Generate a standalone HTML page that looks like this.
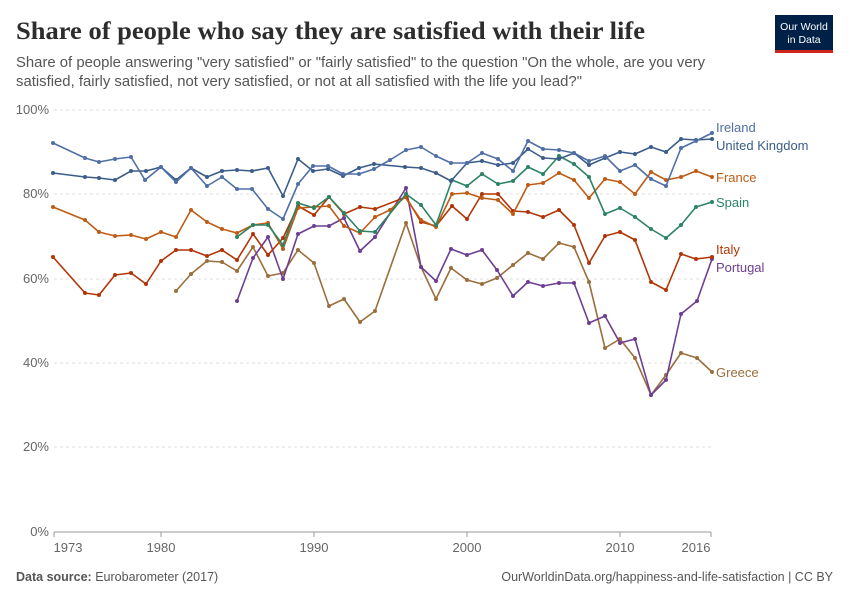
<!DOCTYPE html>
<html><head><meta charset="utf-8"><style>
html,body{margin:0;padding:0;background:#fff;}
svg{display:block;font-family:"Liberation Sans",sans-serif;}
</style></head><body>
<svg width="850" height="600" viewBox="0 0 850 600" xmlns="http://www.w3.org/2000/svg">
<defs>
<marker id="mg" markerWidth="5" markerHeight="5" refX="2.5" refY="2.5" markerUnits="userSpaceOnUse"><circle cx="2.5" cy="2.5" r="2" fill="#9a6f3c"/></marker>
<marker id="mp" markerWidth="5" markerHeight="5" refX="2.5" refY="2.5" markerUnits="userSpaceOnUse"><circle cx="2.5" cy="2.5" r="2" fill="#6d3e91"/></marker>
<marker id="mi" markerWidth="5" markerHeight="5" refX="2.5" refY="2.5" markerUnits="userSpaceOnUse"><circle cx="2.5" cy="2.5" r="2" fill="#b13507"/></marker>
<marker id="mf" markerWidth="5" markerHeight="5" refX="2.5" refY="2.5" markerUnits="userSpaceOnUse"><circle cx="2.5" cy="2.5" r="2" fill="#be5c16"/></marker>
<marker id="ms" markerWidth="5" markerHeight="5" refX="2.5" refY="2.5" markerUnits="userSpaceOnUse"><circle cx="2.5" cy="2.5" r="2" fill="#2c8465"/></marker>
<marker id="mu" markerWidth="5" markerHeight="5" refX="2.5" refY="2.5" markerUnits="userSpaceOnUse"><circle cx="2.5" cy="2.5" r="2" fill="#3b5d8a"/></marker>
<marker id="mr" markerWidth="5" markerHeight="5" refX="2.5" refY="2.5" markerUnits="userSpaceOnUse"><circle cx="2.5" cy="2.5" r="2" fill="#4f6fa6"/></marker>
</defs>
<text x="16" y="39" font-family="Liberation Serif,serif" font-weight="bold" font-size="25" fill="#2d2d2d" textLength="629" lengthAdjust="spacingAndGlyphs">Share of people who say they are satisfied with their life</text>
<text x="16" y="67" font-size="14.5" fill="#555" textLength="689" lengthAdjust="spacingAndGlyphs">Share of people answering "very satisfied" or "fairly satisfied" to the question "On the whole, are you very</text>
<text x="16" y="86" font-size="14.5" fill="#555" textLength="566" lengthAdjust="spacingAndGlyphs">satisfied, fairly satisfied, not very satisfied, or not at all satisfied with the life you lead?"</text>
<rect x="775" y="15" width="58" height="36" fill="#002147"/>
<rect x="775" y="50" width="58" height="3" fill="#ce261e"/>
<text x="804" y="30" font-size="10.5" fill="#fff" text-anchor="middle">Our World</text>
<text x="804" y="43" font-size="10.5" fill="#fff" text-anchor="middle">in Data</text>
<g stroke="#ddd" stroke-dasharray="3,3" stroke-width="1">
<line x1="54" y1="110" x2="711" y2="110"/><line x1="54" y1="194" x2="711" y2="194"/><line x1="54" y1="279" x2="711" y2="279"/><line x1="54" y1="363" x2="711" y2="363"/><line x1="54" y1="447" x2="711" y2="447"/>
</g>
<line x1="54" y1="532" x2="711" y2="532" stroke="#999"/>
<g font-size="13" fill="#666" text-anchor="end">
<text x="49" y="114">100%</text><text x="49" y="198">80%</text><text x="49" y="283">60%</text><text x="49" y="367">40%</text><text x="49" y="451">20%</text><text x="49" y="536">0%</text>
</g>
<g font-size="13" fill="#666" text-anchor="middle">
<text x="68" y="552">1973</text><text x="161" y="552">1980</text><text x="314" y="552">1990</text><text x="467" y="552">2000</text><text x="620" y="552">2010</text><text x="696" y="552">2016</text>
</g>
<g stroke="#999"><line x1="54" y1="532" x2="54" y2="537"/><line x1="161" y1="532" x2="161" y2="537"/><line x1="314" y1="532" x2="314" y2="537"/><line x1="467" y1="532" x2="467" y2="537"/><line x1="620" y1="532" x2="620" y2="537"/><line x1="711" y1="532" x2="711" y2="537"/></g>
<g fill="none" stroke-width="1.6" stroke-linejoin="round">
<polyline stroke="#9a6f3c" marker-start="url(#mg)" marker-mid="url(#mg)" marker-end="url(#mg)" points="176,291 191,274 207,261 222,262 237,271 253,247 268,276 283,273 298,250 314,263 329,306 344,299 360,322 375,311 406,223 421,267 436,299 451,268 467,280 482,284 497,278 513,265 528,253 543,259 559,243 574,247 589,282 605,348 620,339 635,358 651,395 666,375 681,353 697,358 712,372"/>
<polyline stroke="#6d3e91" marker-start="url(#mp)" marker-mid="url(#mp)" marker-end="url(#mp)" points="237,301 253,258 268,237 283,279 298,234 314,226 329,226 344,218 360,251 375,237 406,188 421,267 436,281 451,249 467,255 482,250 497,270 513,296 528,282 543,286 559,283 574,283 589,323 605,316 620,343 635,339 651,395 666,380 681,314 697,301 712,259"/>
<polyline stroke="#b13507" marker-start="url(#mi)" marker-mid="url(#mi)" marker-end="url(#mi)" points="53,257 85,293 99,295 115,275 131,273 146,284 161,261 176,250 191,250 207,256 222,250 237,260 253,234 268,255 283,238 298,206 314,215 329,197 344,214 360,207 375,209 406,197 421,222 436,226 452,206 467,219 482,194 498,194 513,211 528,212 543,217 559,210 574,225 589,263 605,236 620,232 635,240 651,282 666,290 681,254 696,259 712,257"/>
<polyline stroke="#be5c16" marker-start="url(#mf)" marker-mid="url(#mf)" marker-end="url(#mf)" points="53,207 85,220 99,232 115,236 131,235 146,239 161,232 176,237 191,210 207,222 222,229 237,233 253,225 268,223 283,249 298,208 314,207 329,206 344,226 360,233 375,217 390,210 405,197 421,220 436,227 452,194 467,193 482,198 498,200 513,214 528,185 543,183 559,173 574,180 589,198 605,179 620,182 635,194 651,172 666,180 681,177 696,171 712,177"/>
<polyline stroke="#2c8465" marker-start="url(#ms)" marker-mid="url(#ms)" marker-end="url(#ms)" points="237,237 253,225 268,225 283,245 298,203 314,208 329,197 344,213 360,231 375,232 406,194 421,205 436,225 452,180 467,186 482,174 498,184 513,181 528,167 543,174 559,156 574,164 589,177 605,214 620,208 635,217 651,229 666,238 681,225 696,207 712,202"/>
<polyline stroke="#3b5d8a" marker-start="url(#mu)" marker-mid="url(#mu)" marker-end="url(#mu)" points="53,173 85,177 99,178 115,180 131,171 146,171 161,167 176,180 191,168 207,177 222,171 237,170 252,171 268,168 283,196 298,159 313,171 328,169 343,176 359,168 374,164 405,167 421,168 436,173 451,181 467,163 482,161 498,165 513,163 528,149 543,158 559,159 574,153 589,165 605,158 620,152 635,154 651,147 666,152 681,139 696,140 712,139"/>
<polyline stroke="#4f6fa6" marker-start="url(#mr)" marker-mid="url(#mr)" marker-end="url(#mr)" points="53,143 85,158 99,162 115,159 131,157 145,180 161,167 176,182 191,168 207,186 222,177 237,189 252,189 268,209 283,219 298,184 313,166 328,166 343,174 359,174 374,169 390,160 406,150 421,147 436,156 451,163 467,163 482,153 498,159 513,171 528,141 543,149 559,150 574,153 589,161 605,156 620,171 635,165 651,179 666,186 681,148 696,141 712,133"/>
</g>
<g font-size="13">
<text x="716" y="132" fill="#4f6fa6">Ireland</text>
<text x="716" y="150" fill="#3b5d8a">United Kingdom</text>
<text x="716" y="182" fill="#be5c16">France</text>
<text x="716" y="207" fill="#2c8465">Spain</text>
<text x="716" y="254" fill="#b13507">Italy</text>
<text x="716" y="272" fill="#6d3e91">Portugal</text>
<text x="716" y="377" fill="#9a6f3c">Greece</text>
</g>
<text x="16" y="581" font-size="12.5" fill="#555"><tspan font-weight="bold">Data source:</tspan> Eurobarometer (2017)</text>
<text x="833" y="581" font-size="12.5" fill="#555" text-anchor="end">OurWorldinData.org/happiness-and-life-satisfaction | CC BY</text>
</svg>
</body></html>
